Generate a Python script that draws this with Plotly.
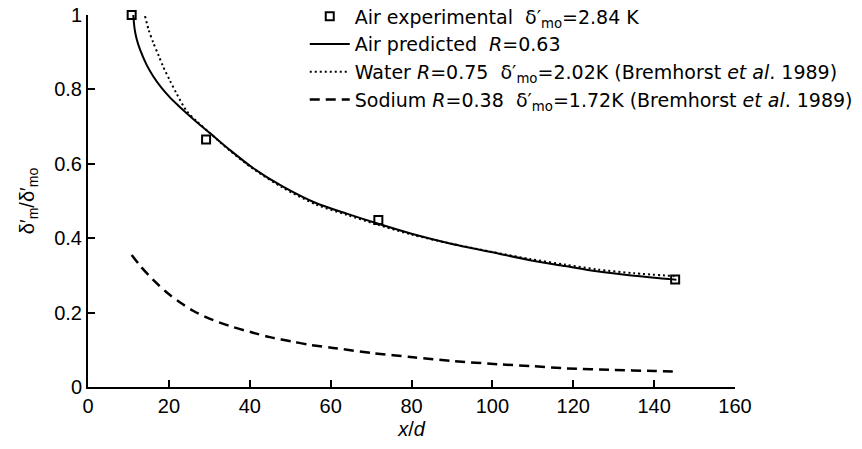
import plotly.graph_objects as go

# ---- data ----
air_exp_x = [10.8, 29.2, 71.8, 145.2]
air_exp_y = [1.0, 0.665, 0.449, 0.289]

air_pred_x = [11.2, 11.5, 12.0, 12.9, 14.5, 16.2, 18.2, 20.3, 22.3, 24.4, 27.0, 30.2, 35.0,
              40.9, 48.0, 56.5, 64.0, 71.4, 80.0, 89.5, 100.0, 109.3, 118.0, 125.8, 135.0,
              143.9, 145.5]
air_pred_y = [1.0, 0.965, 0.937, 0.906, 0.866, 0.834, 0.804, 0.778, 0.757, 0.736, 0.711, 0.682,
              0.638, 0.588, 0.54, 0.494, 0.466, 0.44, 0.412, 0.386, 0.362, 0.341, 0.325, 0.311,
              0.299, 0.29, 0.288]

water_x = [14.1, 15.0, 16.2, 17.5, 18.6, 20.2, 21.9, 24.4, 27.0, 30.2, 35.0, 40.9, 48.0, 56.5,
           64.0, 71.4, 80.0, 89.5, 100.0, 109.3, 118.0, 125.8, 135.0, 145.0]
water_y = [0.997, 0.96, 0.924, 0.89, 0.861, 0.825, 0.789, 0.742, 0.713, 0.682, 0.636, 0.586,
           0.537, 0.49, 0.463, 0.437, 0.41, 0.386, 0.363, 0.344, 0.329, 0.316, 0.306, 0.298]

sodium_x = [10.8, 12.9, 16.2, 19.5, 22.7, 26.0, 29.3, 35.0, 40.8, 45.0, 50.7, 55.0, 60.6, 70.5,
            80.4, 90.0, 101.9, 110.0, 118.4, 130.0, 140.0, 145.6]
sodium_y = [0.355, 0.326, 0.287, 0.254, 0.228, 0.205, 0.187, 0.164, 0.146, 0.134, 0.122, 0.113,
            0.105, 0.091, 0.080, 0.070, 0.061, 0.056, 0.050, 0.046, 0.043, 0.041]

x_ticks = [0, 20, 40, 60, 80, 100, 120, 140, 160]
y_ticks = [0, 0.2, 0.4, 0.6, 0.8, 1.0]
y_tick_text = ["0", "0.2", "0.4", "0.6", "0.8", "1"]

names = [
    "Air experimental\u00a0\u00a0δ′<sub>mo</sub>=2.84\u00a0K",
    "Air predicted\u00a0\u00a0<i>R</i>=0.63",
    "Water <i>R</i>=0.75\u00a0\u00a0δ′<sub>mo</sub>=2.02K\u00a0(Bremhorst <i>et al</i>. 1989)",
    "Sodium <i>R</i>=0.38\u00a0\u00a0δ′<sub>mo</sub>=1.72K\u00a0(Bremhorst <i>et al</i>. 1989)",
]

FONT = "Liberation Sans, Arial, sans-serif"
LEGEND_FONT = "DejaVu Sans, Liberation Sans, sans-serif"

fig = go.Figure()
fig.add_trace(go.Scatter(x=air_pred_x, y=air_pred_y, mode="lines", name=names[1],
                         line=dict(color="black", width=2, shape="spline", smoothing=0.8),
                         legendrank=2))
fig.add_trace(go.Scatter(x=water_x, y=water_y, mode="lines", name=names[2],
                         line=dict(color="black", width=2, dash="2px,3px", shape="spline",
                                   smoothing=0.8), legendrank=3))
fig.add_trace(go.Scatter(x=sodium_x, y=sodium_y, mode="lines", name=names[3],
                         line=dict(color="black", width=2.5, dash="10px,6px", shape="spline",
                                   smoothing=0.8), legendrank=4))
fig.add_trace(go.Scatter(x=air_exp_x, y=air_exp_y, mode="markers", name=names[0],
                         marker=dict(symbol="square-open", size=8, color="black",
                                     line=dict(width=2, color="black")),
                         cliponaxis=False, legendrank=1))

fig.update_layout(
    width=862, height=449,
    margin=dict(l=88, r=127, t=15, b=62, autoexpand=False),
    paper_bgcolor="white", plot_bgcolor="white",
    font=dict(family=FONT, size=20, color="black"),
    showlegend=True,
    legend=dict(x=0.335, y=1.047, xanchor="left", yanchor="top", bgcolor="rgba(0,0,0,0)",
                font=dict(size=19, family=LEGEND_FONT), itemwidth=40),
    xaxis=dict(range=[0, 160], tickvals=x_ticks, ticks="inside", ticklen=7, tickwidth=2,
               tickcolor="black", showline=True, linecolor="black", linewidth=2,
               showgrid=False, zeroline=False,
               tickfont=dict(size=20, family=FONT),
               title=dict(text="<i>x</i>/<i>d</i>", font=dict(size=20), standoff=6)),
    yaxis=dict(range=[0, 1], tickvals=y_ticks, ticktext=y_tick_text, ticks="inside",
               ticklen=7, tickwidth=2, tickcolor="black", showline=True, linecolor="black",
               linewidth=2, showgrid=False, zeroline=False,
               tickfont=dict(size=20, family=FONT),
               title=dict(text="δ′<sub>m</sub>/δ′<sub>mo</sub>", font=dict(size=20), standoff=14)),
)

fig.write_html("out.html")
